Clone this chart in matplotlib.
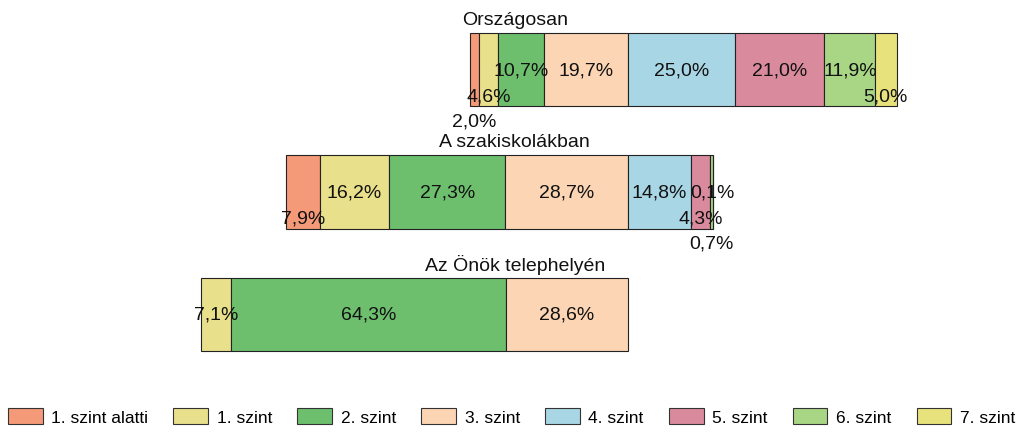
import numpy as np
import matplotlib.pyplot as plt
from matplotlib.patches import Patch

plt.rcParams['font.family'] = ['Liberation Sans', 'DejaVu Sans']

# Adatok
csoportok = ['Országosan', 'A szakiskolákban', 'Az Önök telephelyén']
szintek = ['1. szint alatti', '1. szint', '2. szint', '3. szint',
           '4. szint', '5. szint', '6. szint', '7. szint']
orszagosan = [2.0, 4.6, 10.7, 19.7, 25.0, 21.0, 11.9, 5.0]
szakiskolak = [7.9, 16.2, 27.3, 28.7, 14.8, 4.3, 0.7, 0.1]
telephely = [0.0, 7.1, 64.3, 28.6, 0.0, 0.0, 0.0, 0.0]
ertekek = [orszagosan, szakiskolak, telephely]

szinek = ['#F59A78', '#E8E08A', '#6DBF6E', '#FCD5B4',
          '#A9D6E5', '#D98A9C', '#A9D685', '#E8E27C']

# címkék függőleges eltolása (0 = közép, 1 = alsó rész, 2 = sáv alatt)
cimke_hely = [[2, 1, 0, 0, 0, 0, 0, 1],
              [1, 0, 0, 0, 0, 1, 2, 0],
              [0, 0, 0, 0, 0, 0, 0, 0]]
eltolas = [0.0, 0.215, 0.42]

fig = plt.figure(figsize=(10.23, 4.35), dpi=100)
ax = fig.add_axes([0, 0, 1, 1])

magassag = 0.6
for i, sor in enumerate(ertekek):
    sor = np.array(sor)
    # a 3. és 4. szint határa van a nullánál
    bal = -sor[:4].sum()
    for j, v in enumerate(sor):
        if v <= 0:
            continue
        ax.barh(i, v, left=bal, height=magassag, color=szinek[j],
                edgecolor='#222222', linewidth=0.8)
        ax.text(bal + v / 2, i + eltolas[cimke_hely[i][j]],
                f'{v:.1f}%'.replace('.', ','), ha='center', va='center',
                fontsize=14, color='#111111')
        bal += v
    ax.text(-26.5, i - 0.41, csoportok[i], ha='center', va='center',
            fontsize=14, color='#111111')

ax.set_xlim(-628 / 4.27, (1023 - 628) / 4.27)
ax.set_ylim((435 - 70.5) / 122.5, -70.5 / 122.5)
ax.axis('off')

kezelok = [Patch(facecolor=c, edgecolor='#333333', linewidth=0.8, label=s)
           for c, s in zip(szinek, szintek)]
fig.legend(handles=kezelok, loc='center', bbox_to_anchor=(0.5, 0.041),
           ncol=8, frameon=False, fontsize=12.5, handlelength=2.0,
           handleheight=1.1, handletextpad=0.5, columnspacing=1.45)

fig.savefig('out.png', dpi=100)
